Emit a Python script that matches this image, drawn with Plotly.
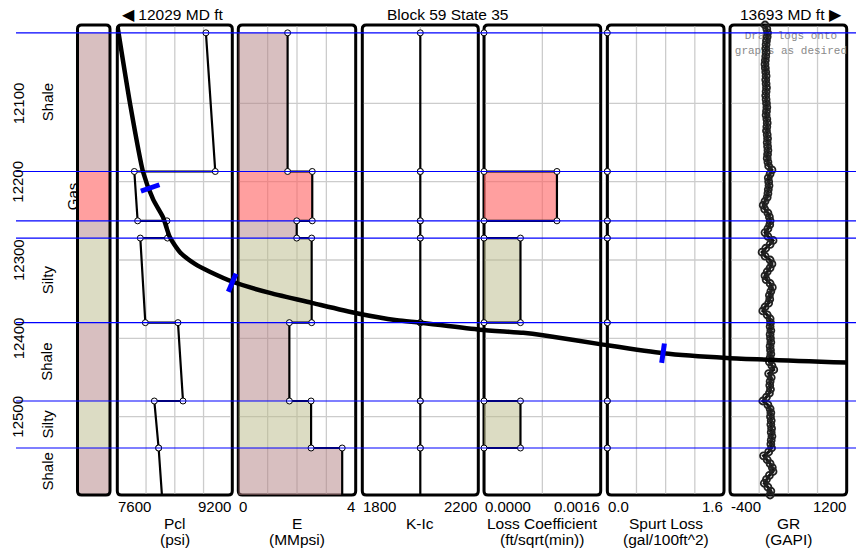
import plotly.graph_objects as go

W, H = 856, 548

# ---------------- data ----------------
layer_top = [12010, 12187, 12250, 12272, 12380, 12480, 12540]
layer_base = [12187, 12250, 12272, 12380, 12480, 12540, 12600]
lithology = ["Shale", "Gas", "Shale", "Silty", "Shale", "Silty", "Shale"]

pcl_top = [8833, 7837, 8291, 7920, 8444, 8115, 8175]
pcl_base = [8963, 7883, 8298, 7990, 8514, 8175, 8221]
e_mod = [1.68, 2.52, 1.99, 2.50, 1.74, 2.48, 3.54]
k_ic = [2000, 2000, 2000, 2000, 2000, 2000, 2000]
loss_coef = [0.0, 0.0010, 0.0, 0.0005, 0.0, 0.0005, 0.0]
spurt_loss = [0.0, 0.0, 0.0, 0.0, 0.0, 0.0, 0.0]

depth_range = [12000, 12600]
depth_ticks = [12100, 12200, 12300, 12400, 12500]

track_names = ["Pcl", "E", "K-Ic", "Loss Coefficient", "Spurt Loss", "GR"]
track_units = ["(psi)", "(MMpsi)", "", "(ft/sqrt(min))", "(gal/100ft^2)", "(GAPI)"]
track_min = [7600, 0, 1800, 0.0, 0.0, -400]
track_max = [9200, 4, 2200, 0.0016, 1.6, 1200]
track_min_label = ["7600", "0", "1800", "0.0000", "0.0", "-400"]
track_max_label = ["9200", "4", "2200", "0.0016", "1.6", "1200"]
track_grid = [400, 1, 200, 0.0008, 0.4, 400]

gr_start, gr_step = 12000, 5
gr_values = [
    80, 105, 115, 110, 100, 95, 90, 95, 90, 85,
    80, 85, 90, 95, 90, 95, 100, 95, 90, 95,
    100, 105, 100, 95, 105, 110, 105, 100, 110, 115,
    110, 115, 120, 115, 110, 120, 130, 175, 150, 125,
    130, 135, 125, 120, 110, 80, 55, 75, 120, 140,
    150, 145, 120, 80, 120, 190, 150, 90, 40, 80,
    150, 175, 150, 110, 80, 95, 150, 180, 160, 140,
    145, 130, 80, 50, 110, 150, 155, 150, 160, 150,
    155, 160, 150, 155, 160, 150, 140, 175, 200, 130,
    165, 150, 145, 155, 140, 100, 50, 120, 150, 160,
    155, 165, 160, 170, 165, 175, 165, 160, 170, 130,
    60, 110, 150, 180, 190, 140, 100, 70, 120, 160,
    150,
]
gr_depth = [gr_start + gr_step * i for i in range(len(gr_values))]

md_left, md_right = 12029, 13693
well_md = [12029, 12058, 12088, 12111, 12133, 12149, 12172, 12206, 12240, 12293, 12377,
           12475, 12575, 12667, 12720, 12856, 12955, 13000, 13137, 13274, 13420, 13693]
well_tvd = [12000, 12100, 12188, 12223, 12245, 12271, 12290, 12305, 12315, 12328, 12342,
            12355, 12368, 12377, 12380, 12389, 12393, 12396, 12408, 12419, 12425, 12431]
stage_md = [12104, 12291, 13274]
stage_tvd = [12208, 12329, 12419]

well_name = "Block 59 State 35"

# ---------------- style ----------------
FONT = "Liberation Sans, Arial, Helvetica, sans-serif"
lith_solid = {"Shale": "#d8bfc0", "Gas": "#ff9f9f", "Silty": "#dcdcc4"}
lith_alpha = {"Shale": "rgba(177,127,129,0.5)", "Gas": "rgba(255,95,95,0.6)",
              "Silty": "rgba(185,185,135,0.5)"}
GRID = "#cccccc"
BLUE = "#0000ff"

TOP, BOT = 25.0, 495.0
LITHO_PX = (77.5, 110.0)
TRACK_PX = [(117.3, 232.3), (238.3, 355.7), (362.3, 478.3),
            (484.0, 600.7), (607.3, 724.0), (730.0, 846.7)]
stage_angle = [71, 23, 8]
BORDER_INSET = 1.6  # px: keep grid lines off the track borders


def fx(px):
    return px / W


def fy(py):
    return 1 - py / H


def rrect(x0, y0, x1, y1, r=4):
    pts = [("M", x0 + r, y0), ("L", x1 - r, y0), ("Q", x1, y0, x1, y0 + r),
           ("L", x1, y1 - r), ("Q", x1, y1, x1 - r, y1), ("L", x0 + r, y1),
           ("Q", x0, y1, x0, y1 - r), ("L", x0, y0 + r), ("Q", x0, y0, x0 + r, y0)]
    out = []
    for p in pts:
        coords = p[1:]
        s = [f"{fx(coords[k]):.6f},{fy(coords[k+1]):.6f}" for k in range(0, len(coords), 2)]
        out.append(p[0] + " " + " ".join(s))
    return " ".join(out) + " Z"


fig = go.Figure()
shapes = []
annotations = []

ydom = [fy(BOT), fy(TOP)]
layout = dict(
    width=W, height=H, autosize=False,
    margin=dict(l=0, r=0, t=0, b=0),
    paper_bgcolor="white", plot_bgcolor="rgba(0,0,0,0)",
    showlegend=False,
    font=dict(family=FONT, size=15, color="black"),
    yaxis=dict(domain=ydom, range=[depth_range[1], depth_range[0]], visible=False,
               anchor="x", fixedrange=True),
    yaxis2=dict(domain=ydom, range=[depth_range[1], depth_range[0]], visible=False,
                anchor="x8", fixedrange=True),
    xaxis8=dict(domain=[fx(TRACK_PX[0][0]), fx(TRACK_PX[-1][1])], range=[md_left, md_right],
                visible=False, anchor="y2", fixedrange=True),
)
axis_ids = ["x", "x2", "x3", "x4", "x5", "x6"]
for i, (a, b) in enumerate(TRACK_PX):
    key = "xaxis" if i == 0 else f"xaxis{i+1}"
    layout[key] = dict(domain=[fx(a), fx(b)], range=[track_min[i], track_max[i]],
                       visible=False, anchor="y", fixedrange=True)

# ---- lithology column ----
for t, bse, lt in zip(layer_top, layer_base, lithology):
    shapes.append(dict(type="rect", xref="paper", yref="y", x0=fx(LITHO_PX[0]), x1=fx(LITHO_PX[1]),
                       y0=t, y1=bse, fillcolor=lith_solid[lt], line=dict(width=0), layer="below"))

# ---- track borders ----
for (a, b) in [LITHO_PX] + TRACK_PX:
    shapes.append(dict(type="path", xref="paper", yref="paper", path=rrect(a, TOP, b, BOT),
                       line=dict(color="black", width=3), fillcolor="rgba(0,0,0,0)", layer="below"))

# ---- layer boundary lines ----
for t in layer_top:
    shapes.append(dict(type="line", xref="paper", yref="y", x0=fx(16), x1=1, y0=t, y1=t,
                       line=dict(color=BLUE, width=1.2), layer="above"))

# ---- grid lines (as traces, first in each track) ----
for i, (a, b) in enumerate(TRACK_PX):
    mn, mx = track_min[i], track_max[i]
    ex = (mx - mn) * BORDER_INSET / (b - a)
    ey = (depth_range[1] - depth_range[0]) * BORDER_INSET / (BOT - TOP)
    gx, gy = [], []
    for d in depth_ticks:
        gx += [mn + ex, mx - ex, None]
        gy += [d, d, None]
    n = round((mx - mn) / track_grid[i])
    for k in range(1, n):
        v = mn + k * track_grid[i]
        gx += [v, v, None]
        gy += [depth_range[0] + ey, depth_range[1] - ey, None]
    fig.add_trace(go.Scatter(x=gx, y=gy, mode="lines", line=dict(color=GRID, width=1.3),
                             hoverinfo="skip", xaxis=axis_ids[i], yaxis="y"))


# ---- fills ----
def add_fills(values, xa):
    for t, bse, v, lt in zip(layer_top, layer_base, values, lithology):
        if v <= 0:
            continue
        fig.add_trace(go.Scatter(x=[0, v, v, 0, 0], y=[t, t, bse, bse, t], mode="lines",
                                 fill="toself", fillcolor=lith_alpha[lt], line=dict(width=0),
                                 hoverinfo="skip", xaxis=xa, yaxis="y"))


add_fills(e_mod, "x2")
add_fills(loss_coef, "x4")


# ---- step curves ----
def add_step(top_vals, base_vals, xa):
    xs, ys = [], []
    for t, bse, vt, vb in zip(layer_top, layer_base, top_vals, base_vals):
        xs += [vt, vb]
        ys += [t, bse]
    fig.add_trace(go.Scatter(x=xs, y=ys, mode="lines", line=dict(color="black", width=2.2),
                             cliponaxis=False, hoverinfo="skip", xaxis=xa, yaxis="y"))
    fig.add_trace(go.Scatter(x=xs[:-1], y=ys[:-1], mode="markers",
                             marker=dict(symbol="circle", size=6, color="white",
                                         line=dict(color="black", width=1)),
                             cliponaxis=False, hoverinfo="skip", xaxis=xa, yaxis="y"))


add_step(pcl_top, pcl_base, "x")
add_step(e_mod, e_mod, "x2")
add_step(k_ic, k_ic, "x3")
add_step(loss_coef, loss_coef, "x4")
add_step(spurt_loss, spurt_loss, "x5")

# ---- GR ----
fig.add_trace(go.Scatter(x=[(track_min[5] + track_max[5]) / 2 + 35], y=[12024], mode="text",
                         text=["Drag logs onto<br>graphs as desired"],
                         textfont=dict(family="Liberation Mono, Courier New, monospace",
                                       size=11, color="#8a8a8a"),
                         textposition="middle center", cliponaxis=True,
                         hoverinfo="skip", xaxis="x6", yaxis="y"))
fig.add_trace(go.Scatter(x=gr_values, y=gr_depth, mode="lines+markers",
                         line=dict(color="#111111", width=3),
                         marker=dict(symbol="circle-open", size=7, color="#222222",
                                     line=dict(width=1.8)),
                         cliponaxis=False, hoverinfo="skip", xaxis="x6", yaxis="y"))

# ---- well path ----
fig.add_trace(go.Scatter(x=well_md, y=well_tvd, mode="lines",
                         line=dict(color="black", width=4.5, shape="spline", smoothing=0.6),
                         cliponaxis=False, hoverinfo="skip", xaxis="x8", yaxis="y2"))
fig.add_trace(go.Scatter(x=stage_md, y=stage_tvd, mode="markers",
                         marker=dict(symbol="line-ns", size=14, angle=stage_angle,
                                     line=dict(color=BLUE, width=5)),
                         cliponaxis=False, hoverinfo="skip", xaxis="x8", yaxis="y2"))


# ---- text ----
def ann(text, px, py, size=15, xanchor="center", angle=0, yref="paper"):
    annotations.append(dict(text=text, x=fx(px), y=(fy(py) if yref == "paper" else py),
                            xref="paper", yref=yref, showarrow=False, xanchor=xanchor,
                            yanchor="middle", textangle=angle,
                            font=dict(family=FONT, size=size, color="black")))


ann(f"\u25C0 {md_left} MD ft", 172, 15, size=15.5)
ann(well_name, 448, 15, size=15.5)
ann(f"{md_right} MD ft \u25B6", 791, 15, size=15.5)

for d in depth_ticks:
    ann(str(d), 18, d, angle=-90, yref="y", size=15)

for t, bse, lt in zip(layer_top, layer_base, lithology):
    if bse - t < 40:
        continue
    xpos = 72 if lt == "Gas" else 47
    ann(lt, xpos, (t + bse) / 2, angle=-90, yref="y", size=15)

for i, (a, b) in enumerate(TRACK_PX):
    ann(track_min_label[i], a - 1, 506, xanchor="left", size=15)
    ann(track_max_label[i], b + 1, 506, xanchor="right", size=15)
    ann(track_names[i], (a + b) / 2, 523, size=15.5)
    if track_units[i]:
        ann(track_units[i], (a + b) / 2, 539, size=15.5)

layout["shapes"] = shapes
layout["annotations"] = annotations
fig.update_layout(**layout)

fig.write_html("out.html", config={"displayModeBar": False},
               post_script="document.body.style.margin='0px';document.body.style.padding='0px';")
